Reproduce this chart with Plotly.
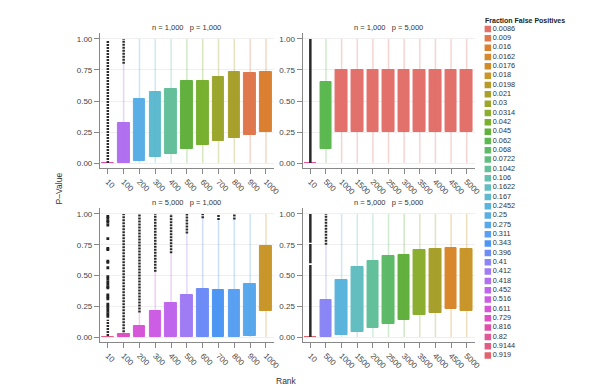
import plotly.graph_objects as go

# ---------------- data ----------------
ffp_levels = ["0.0086", "0.009", "0.016", "0.0162", "0.0176", "0.018", "0.0198", "0.021",
              "0.03", "0.0314", "0.042", "0.045", "0.062", "0.068", "0.0722", "0.1042",
              "0.106", "0.1622", "0.167", "0.2452", "0.25", "0.275", "0.311", "0.343",
              "0.396", "0.41", "0.412", "0.418", "0.452", "0.516", "0.611", "0.729",
              "0.816", "0.82", "0.9144", "0.919"]

# colour for each level (style, same order as ffp_levels)
level_colors = ["#E3716B", "#E0784E", "#DA8030", "#D8872C", "#D08C28", "#C8962A", "#B89A2A",
                "#A8A02C", "#9AA62C", "#8CAE30", "#78B030", "#62B03E", "#5CB850", "#5EBA68",
                "#62BE80", "#64C09A", "#66C0AE", "#62BEC0", "#5EBACE", "#5AB4DC", "#5AAEE6",
                "#58A8EE", "#5AA0F2", "#4E96F4", "#6E8CF6", "#8A86F6", "#A07CF4", "#B070F0",
                "#C066EC", "#CC5EE4", "#D655D8", "#DE50C4", "#E050AA", "#E05898", "#E05E84",
                "#E0646E"]

facet_titles = ["n = 1,000   p = 1,000", "n = 1,000   p = 5,000",
                "n = 5,000   p = 1,000", "n = 5,000   p = 5,000"]

ranks_p1000 = ["10", "100", "200", "300", "400", "500", "600", "700", "800", "900", "1000"]
ranks_p5000 = ["10", "500", "1000", "1500", "2000", "2500", "3000", "3500", "4000", "4500", "5000"]

# panel 1: n=1000, p=1000
p1_q1 = [0.0, 0.0, 0.013, 0.046, 0.072, 0.113, 0.145, 0.18, 0.20, 0.225, 0.247]
p1_q3 = [0.003, 0.32, 0.517, 0.574, 0.60, 0.665, 0.662, 0.697, 0.732, 0.727, 0.737]
p1_wlo = [0.0, 0.0, 0.0, 0.0, 0.0, 0.0, 0.0, 0.0, 0.0, 0.0, 0.0]
p1_whi = [0.0, 0.80, 1.0, 1.0, 1.0, 1.0, 1.0, 1.0, 1.0, 1.0, 1.0]
p1_ffp = ["0.816", "0.418", "0.25", "0.167", "0.1042", "0.045", "0.042", "0.03", "0.021", "0.009", "0.016"]
p1_out_runs = [("10", 0.0, 0.985), ("100", 0.80, 1.0)]
p1_out_pts_rank = []
p1_out_pts_val = []

# panel 2: n=1000, p=5000
p2_q1 = [0.0, 0.113, 0.25, 0.25, 0.25, 0.25, 0.25, 0.25, 0.25, 0.25, 0.25]
p2_q3 = [0.003, 0.657, 0.75, 0.75, 0.75, 0.75, 0.75, 0.75, 0.75, 0.75, 0.75]
p2_wlo = [0.0, 0.0, 0.0, 0.0, 0.0, 0.0, 0.0, 0.0, 0.0, 0.0, 0.0]
p2_whi = [0.0, 1.0, 1.0, 1.0, 1.0, 1.0, 1.0, 1.0, 1.0, 1.0, 1.0]
p2_ffp = ["0.82", "0.062", "0.0086", "0.0086", "0.0086", "0.0086", "0.0086", "0.0086", "0.0086", "0.0086", "0.0086"]
p2_out_runs = [("10", 0.0, 1.0)]
p2_out_pts_rank = []
p2_out_pts_val = []

# panel 3: n=5000, p=1000
p3_q1 = [0.0, 0.0, 0.0, 0.0, 0.0, 0.0, 0.0, 0.0, 0.0, 0.008, 0.214]
p3_q3 = [0.003, 0.021, 0.086, 0.214, 0.273, 0.338, 0.39, 0.385, 0.385, 0.43, 0.737]
p3_wlo = [0.0, 0.0, 0.0, 0.0, 0.0, 0.0, 0.0, 0.0, 0.0, 0.0, 0.0]
p3_whi = [0.0, 0.04, 0.20, 0.53, 0.68, 0.84, 0.965, 0.95, 0.955, 1.0, 1.0]
p3_ffp = ["0.9144", "0.729", "0.611", "0.516", "0.452", "0.412", "0.396", "0.343", "0.311", "0.275", "0.018"]
p3_out_runs = [("10", 0.008, 0.14), ("100", 0.04, 1.0), ("200", 0.20, 1.0), ("300", 0.53, 1.0),
               ("400", 0.68, 1.0), ("500", 0.84, 1.0), ("600", 0.965, 1.0), ("700", 0.95, 1.0),
               ("800", 0.955, 0.995)]
p3_out_pts_rank = ["10"] * 26
p3_out_pts_val = [0.98, 0.965, 0.946, 0.933, 0.91, 0.80, 0.72, 0.71, 0.617, 0.606, 0.563, 0.49,
                  0.472, 0.45, 0.43, 0.41, 0.40, 0.343, 0.327, 0.311, 0.268, 0.25, 0.231, 0.209,
                  0.188, 0.169]

# panel 4: n=5000, p=5000
p4_q1 = [0.0, 0.0, 0.013, 0.038, 0.072, 0.107, 0.142, 0.177, 0.198, 0.23, 0.212]
p4_q3 = [0.003, 0.303, 0.464, 0.568, 0.614, 0.657, 0.665, 0.705, 0.713, 0.727, 0.718]
p4_wlo = [0.0, 0.0, 0.0, 0.0, 0.0, 0.0, 0.0, 0.0, 0.0, 0.0, 0.0]
p4_whi = [0.0, 0.75, 1.0, 1.0, 1.0, 1.0, 1.0, 1.0, 1.0, 1.0, 1.0]
p4_ffp = ["0.919", "0.41", "0.2452", "0.1622", "0.1042", "0.068", "0.045", "0.0314", "0.021", "0.0162", "0.018"]
p4_out_runs = [("10", 0.0, 0.585), ("10", 0.60, 0.755), ("10", 0.765, 1.0), ("500", 0.75, 1.0)]
p4_out_pts_rank = []
p4_out_pts_val = []

y_tick_vals = [0.0, 0.25, 0.5, 0.75, 1.0]
y_tick_text = ["0.00", "0.25", "0.50", "0.75", "1.00"]

palette = dict(zip(ffp_levels, level_colors))
n_lev = len(ffp_levels)

# panels whose rank-10 outlier column is so dense it reads as a solid line (style)
SOLID_RUN_PANELS = {1, 3}


def rgba(hexc, a):
    return "rgba(%d,%d,%d,%s)" % (int(hexc[1:3], 16), int(hexc[3:5], 16), int(hexc[5:7], 16), a)


# ---------------- layout geometry (pixels) ----------------
W, H = 602, 388
col_x = [(93, 269), (298, 472)]
row_y = [(25, 160), (200, 334)]
Y_RANGE = [-0.04, 1.048]
FONT = "Liberation Sans"


def px_x(p):
    return p / W


def px_y(p):
    return 1 - p / H


fig = go.Figure()

panels = [
    (ranks_p1000, p1_q1, p1_q3, p1_wlo, p1_whi, p1_ffp, p1_out_runs, p1_out_pts_rank, p1_out_pts_val),
    (ranks_p5000, p2_q1, p2_q3, p2_wlo, p2_whi, p2_ffp, p2_out_runs, p2_out_pts_rank, p2_out_pts_val),
    (ranks_p1000, p3_q1, p3_q3, p3_wlo, p3_whi, p3_ffp, p3_out_runs, p3_out_pts_rank, p3_out_pts_val),
    (ranks_p5000, p4_q1, p4_q3, p4_wlo, p4_whi, p4_ffp, p4_out_runs, p4_out_pts_rank, p4_out_pts_val),
]

for k, (ranks, q1, q3, wlo, whi, ffp, runs, pr, pv) in enumerate(panels):
    xa = "x" if k == 0 else "x%d" % (k + 1)
    ya = "y" if k == 0 else "y%d" % (k + 1)
    cols = [palette[f] for f in ffp]
    # whiskers
    for r, lo, hi, c in zip(ranks, wlo, whi, cols):
        if hi - lo <= 0:
            continue
        fig.add_trace(go.Scatter(x=[r, r], y=[lo, hi], mode="lines", xaxis=xa, yaxis=ya,
                                 line=dict(color=rgba(c, 0.3), width=1.5),
                                 hoverinfo="skip", showlegend=False))
    # boxes
    fig.add_trace(go.Bar(x=ranks, y=[b - a for a, b in zip(q1, q3)], base=q1, width=0.74,
                         xaxis=xa, yaxis=ya,
                         marker=dict(color=cols, line=dict(color=cols, width=1)),
                         showlegend=False))
    # outliers (dense runs)
    for r, lo, hi in runs:
        solid = (k in SOLID_RUN_PANELS and r == "10")
        fig.add_trace(go.Scatter(x=[r, r], y=[lo, hi], mode="lines", xaxis=xa, yaxis=ya,
                                 line=dict(color="#2a2a2a", width=2.5,
                                           dash="solid" if solid else "2px,1px"),
                                 hoverinfo="skip", showlegend=False))
    if pv:
        fig.add_trace(go.Scatter(x=pr, y=pv, mode="markers", xaxis=xa, yaxis=ya,
                                 marker=dict(color="#222222", size=2.8, symbol="square"),
                                 hoverinfo="skip", showlegend=False))

# ---------------- axes ----------------
axis_common = dict(showline=True, linecolor="#888888", linewidth=1, ticks="outside",
                   ticklen=5, tickcolor="#888888", tickwidth=1,
                   tickfont=dict(family=FONT, size=8, color="#444444"), zeroline=False)

for k in range(4):
    r, c = divmod(k, 2)
    sx = "" if k == 0 else str(k + 1)
    cats = panels[k][0]
    fig.layout["xaxis" + sx] = dict(axis_common, domain=[px_x(col_x[c][0]), px_x(col_x[c][1])],
                                    anchor="y" + sx, type="category", categoryorder="array",
                                    categoryarray=cats, range=[-0.5, len(cats) - 0.5],
                                    tickangle=45, showgrid=False)
    fig.layout["yaxis" + sx] = dict(axis_common, domain=[px_y(row_y[r][1]), px_y(row_y[r][0])],
                                    anchor="x" + sx, range=Y_RANGE, tickvals=y_tick_vals,
                                    ticktext=y_tick_text, showgrid=True, gridcolor="#efefef",
                                    gridwidth=1)
    fig.add_annotation(text=facet_titles[k], xref="paper", yref="paper",
                       x=(px_x(col_x[c][0]) + px_x(col_x[c][1])) / 2,
                       y=px_y(row_y[r][0] - 6), xanchor="center", yanchor="middle",
                       showarrow=False, font=dict(family=FONT, size=7.5, color="#333333"))

# axis titles
fig.add_annotation(text="P\u2013Value", xref="paper", yref="paper", x=px_x(52), y=px_y(180),
                   textangle=-90, showarrow=False, xanchor="center", yanchor="middle",
                   font=dict(family=FONT, size=8.5, color="#333333"))
fig.add_annotation(text="Rank", xref="paper", yref="paper", x=px_x(282), y=px_y(373),
                   showarrow=False, xanchor="center", yanchor="middle",
                   font=dict(family=FONT, size=8.5, color="#333333"))

# ---------------- legend (drawn on its own axis) ----------------
leg_y = [21 + 9.33 * i for i in range(n_lev)]
fig.add_trace(go.Scatter(x=[7.5] * n_lev, y=leg_y, mode="markers", xaxis="x5", yaxis="y5",
                         marker=dict(symbol="square", size=6.5,
                                     color=[palette[l] for l in ffp_levels]),
                         hoverinfo="skip", showlegend=False))
fig.add_trace(go.Scatter(x=[12.5] * n_lev, y=leg_y, mode="text", xaxis="x5", yaxis="y5",
                         text=ffp_levels, textposition="middle right",
                         textfont=dict(family=FONT, size=7.3, color="#333333"),
                         hoverinfo="skip", showlegend=False))
fig.layout["xaxis5"] = dict(domain=[px_x(478), 1], range=[0, 124], visible=False, anchor="y5")
fig.layout["yaxis5"] = dict(domain=[0, 1], range=[H, 0], visible=False, anchor="x5")
fig.add_annotation(text="<b>Fraction False Positives</b>", xref="paper", yref="paper",
                   x=px_x(481), y=px_y(12), xanchor="left", yanchor="middle", showarrow=False,
                   font=dict(family=FONT, size=7, color="#222222"))

fig.update_layout(width=W, height=H, margin=dict(l=0, r=0, t=0, b=0),
                  paper_bgcolor="white", plot_bgcolor="white", showlegend=False,
                  barmode="overlay", bargap=0)

fig.write_html("out.html")
